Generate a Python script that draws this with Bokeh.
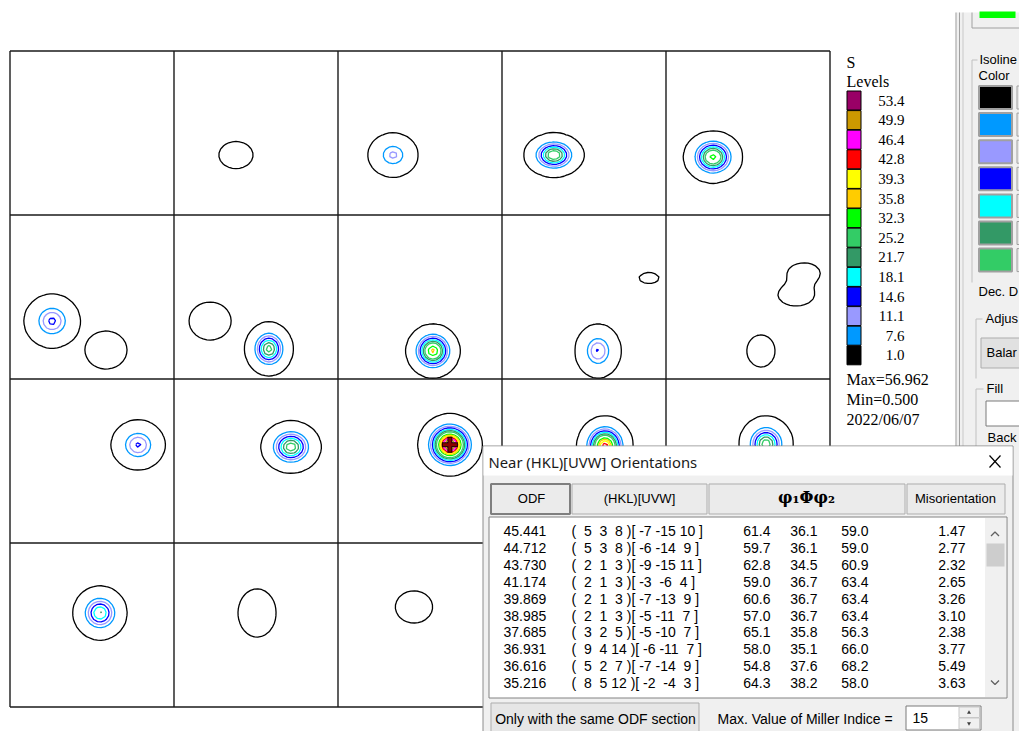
import numpy as np
from bokeh.plotting import figure
from bokeh.models import Range1d, ColumnDataSource
from bokeh.core.properties import value
from bokeh.embed import file_html
from bokeh.resources import INLINE

# ---------------- data ----------------
level_values = [1.0, 7.6, 11.1, 14.6, 18.1, 21.7, 25.2, 32.3, 35.8, 39.3, 42.8, 46.4, 49.9, 53.4]
level_colors = ["#000000", "#0099FF", "#9999FF", "#0000FF", "#00FFFF", "#339966", "#33CC66",
                "#00FF00", "#FFCC00", "#FFFF00", "#FF0000", "#FF00FF", "#CC9900", "#990066"]
odf_max = 56.962
odf_min = 0.500
date_label = "2022/06/07"
max_phi1, max_Phi, max_section = 61.4, 36.1, 12

# ODF peaks, per phi2 section (0..19): phi1, Phi (deg), peak value, half widths at level 1.0 (deg)
peak_section = [1, 2, 3, 4, 5, 5, 6, 6, 7, 8, 8, 9, 9, 9, 10, 11, 12, 13, 14, 15, 16, 17]
peak_phi1 = [34.0, 30.2, 28.5, 25.8, 23.1, 52.7, 19.8, 52.1, 52.1, 80.7, 52.7, 75.7, 71.4, 52.1,
             70.3, 64.2, 61.4, 56.5, 54.9, 49.4, 45.6, 41.7]
peak_Phi = [57.1, 57.1, 57.1, 58.2, 58.2, 74.1, 58.2, 73.5, 74.6, 34.6, 74.6, 31.8, 43.9, 74.6,
            36.2, 37.3, 36.1, 36.8, 35.7, 38.4, 38.4, 35.1]
peak_value = [2.5, 12.0, 30.0, 34.0, 15.5, 2.5, 2.3, 27.0, 37.0, 1.5, 15.0, 1.6, 1.6, 2.0,
              15.2, 28.0, 56.962, 45.0, 28.0, 22.0, 2.5, 2.0]
peak_w1 = [9.3, 13.7, 16.5, 16.2, 15.4, 11.5, 11.5, 13.2, 14.8, 5.5, 12.6, 8.8, 9.9, 7.7,
           14.8, 16.5, 17.6, 15.4, 14.8, 14.8, 10.4, 10.2]
peak_w2 = [7.4, 12.1, 12.1, 14.3, 14.8, 10.4, 10.4, 14.8, 14.8, 3.0, 14.8, 5.5, 6.0, 8.8,
           13.7, 14.3, 17.0, 16.5, 15.4, 14.8, 13.2, 8.8]

# table of near orientations
tbl_odf = ["45.441", "44.712", "43.730", "41.174", "39.869", "38.985", "37.685", "36.931", "36.616", "35.216"]
tbl_h = [5, 5, 2, 2, 2, 2, 3, 9, 5, 8]
tbl_k = [3, 3, 1, 1, 1, 1, 2, 4, 2, 5]
tbl_l = [8, 8, 3, 3, 3, 3, 5, 14, 7, 12]
tbl_u = [-7, -6, -9, -3, -7, -5, -5, -6, -7, -2]
tbl_v = [-15, -14, -15, -6, -13, -11, -10, -11, -14, -4]
tbl_w = [10, 9, 11, 4, 9, 7, 7, 7, 9, 3]
tbl_phi1 = ["61.4", "59.7", "62.8", "59.0", "60.6", "57.0", "65.1", "58.0", "54.8", "64.3"]
tbl_Phi = ["36.1", "36.1", "34.5", "36.7", "36.7", "36.7", "35.8", "35.1", "37.6", "38.2"]
tbl_phi2 = ["59.0", "59.0", "60.9", "63.4", "63.4", "63.4", "56.3", "66.0", "68.2", "58.0"]
tbl_mis = ["1.47", "2.77", "2.32", "2.65", "3.26", "3.10", "2.38", "3.77", "5.49", "3.63"]
max_miller = "15"
isoline_colors = level_colors[:7]

# ---------------- figure ----------------
W, H = 1019, 731
p = figure(width=W, height=H, x_range=Range1d(0, W), y_range=Range1d(H, 0),
           output_backend="svg", toolbar_location=None, x_axis_type=None, y_axis_type=None,
           min_border=0, background_fill_color="white", border_fill_color="white")
p.outline_line_color = None
p.xgrid.visible = False
p.ygrid.visible = False

SANS = value("Liberation Sans")
SERIF = value("Liberation Serif")
NB = "\u00a0"

def txt(x, y, s, size="13px", font=SANS, align="left", color="#000000", style="normal"):
    p.text(x=x if isinstance(x, list) else [x], y=y if isinstance(y, list) else [y],
           text=s if isinstance(s, list) else [s], text_font=font, text_font_size=size,
           text_align=align, text_baseline="middle", text_color=color, text_font_style=style)

# ---------------- ODF sections ----------------
GX0, GY0, CELL = 9.5, 50.5, 164.0
DEG = CELL / 90.0
phi = np.arange(0, 90.001, 2.0)
P1, PP = np.meshgrid(phi, phi)
for s in sorted(set(peak_section)):
    r, c = divmod(s, 5)
    z = np.full(P1.shape, odf_min)
    for i, sec in enumerate(peak_section):
        if sec != s:
            continue
        A = peak_value[i] - odf_min
        k = np.sqrt(2 * np.log(A / (level_values[0] - odf_min)))
        s1, s2 = peak_w1[i] / k, peak_w2[i] / k
        z += A * np.exp(-((P1 - peak_phi1[i]) ** 2 / (2 * s1 ** 2) + (PP - peak_Phi[i]) ** 2 / (2 * s2 ** 2)))
    xs = GX0 + c * CELL + phi * DEG
    ys = GY0 + r * CELL + phi * DEG
    p.contour(xs, ys, z, levels=level_values, line_color=level_colors, line_width=1.3)

# maximum marker
mr, mc = divmod(max_section, 5)
mx = GX0 + mc * CELL + max_phi1 * DEG
my = GY0 + mr * CELL + max_Phi * DEG
p.scatter([mx], [my], marker="cross", size=16, line_color="#1a0000", line_width=5)
p.scatter([mx], [my], marker="cross", size=14, line_color="#8B0000", line_width=3)

# grid
gx = [GX0 + i * CELL for i in range(6)]
gy = [GY0 + j * CELL for j in range(5)]
p.segment(x0=gx, y0=[gy[0]] * 6, x1=gx, y1=[gy[-1]] * 6, line_color="#1a1a1a", line_width=1.4)
p.segment(x0=[gx[0]] * 5, y0=gy, x1=[gx[-1]] * 5, y1=gy, line_color="#1a1a1a", line_width=1.4)

# ---------------- legend ----------------
LX, LY0, LSTEP = 846.5, 90.5, 19.6
n = len(level_values)
tops = [LY0 + i * LSTEP for i in range(n)]
rev_vals = level_values[::-1]
rev_cols = level_colors[::-1]
p.quad(left=[LX] * n, right=[LX + 14] * n, top=tops, bottom=[t + 19 for t in tops],
       fill_color=rev_cols, line_color="#000000", line_width=1)
txt([904] * n, [t + 9.5 for t in tops], ["%.1f" % v for v in rev_vals], size="15px", font=SERIF, align="right")
txt(846, 62, "S", size="16px", font=SERIF)
txt(846, 81, "Levels", size="16px", font=SERIF)
txt(846, 379, "Max=%.3f" % odf_max, size="16px", font=SERIF)
txt(846, 399, "Min=%.3f" % odf_min, size="16px", font=SERIF)
txt(846, 419, date_label, size="16px", font=SERIF)

# ---------------- right control panel ----------------
p.quad(left=[955], right=[1020], top=[12], bottom=[731], fill_color="#F0F0F0", line_color=None)
p.segment(x0=[955.5, 959, 962.5], y0=[12] * 3, x1=[955.5, 959, 962.5], y1=[731] * 3,
          line_color=["#A0A0A0", "#A0A0A0", "#C8C8C8"], line_width=1)
p.segment(x0=[971.5, 971.5], y0=[12, 27.5], x1=[971.5, 1019], y1=[27.5, 27.5], line_color="#A0A0A0", line_width=1)
p.quad(left=[979], right=[1015], top=[11], bottom=[17.5], fill_color="#00FF00", line_color=None)
# Isoline group
p.segment(x0=[971.5, 971.5], y0=[59.5, 59.5], x1=[977, 971.5], y1=[59.5, 282], line_color="#C0C0C0", line_width=1)
txt(979, 59, "Isoline", size="13px")
txt(978, 75, "Color", size="13px")
sw_top = [85.5 + 27.1 * i for i in range(len(isoline_colors))]
p.quad(left=[978.5] * 7, right=[1011.5] * 7, top=sw_top, bottom=[t + 23 for t in sw_top],
       fill_color=isoline_colors, line_color="#A0A0A0", line_width=2)
p.quad(left=[1016.5] * 7, right=[1025] * 7, top=sw_top, bottom=[t + 23 for t in sw_top],
       fill_color="#E8E8E8", line_color="#A0A0A0", line_width=1)
txt(978, 291, "Dec. D", size="13px")
# Adjust group
p.segment(x0=[975.5, 975.5], y0=[318.5, 318.5], x1=[982, 975.5], y1=[318.5, 378], line_color="#C0C0C0", line_width=1)
txt(985, 318, "Adjus", size="13px")
p.quad(left=[980.5], right=[1025], top=[337.5], bottom=[367.5], fill_color="#E1E1E1", line_color="#ADADAD")
txt(986, 352, "Balar", size="13px")
# Fill group
p.segment(x0=[975.5, 975.5], y0=[388.5, 388.5], x1=[983, 975.5], y1=[388.5, 446], line_color="#C0C0C0", line_width=1)
txt(986, 388, "Fill", size="13px")
p.quad(left=[985.5], right=[1025], top=[400.5], bottom=[425.5], fill_color="white", line_color="#7A7A7A")
txt(987, 437, "Back", size="13px")

# ---------------- dialog ----------------
p.quad(left=[482.5], right=[1012.5], top=[445.5], bottom=[740], fill_color="#F0F0F0", line_color="#8C8C8C")
p.quad(left=[483], right=[1012], top=[446], bottom=[475], fill_color="white", line_color=None)
txt(488, 461, "Near (HKL)[UVW] Orientations", size="14.8px", font=value("Noto Sans"), color="#1a1a1a")
p.segment(x0=[989, 989], y0=[455, 467], x1=[1000, 1000], y1=[467, 455], line_color="#000000", line_width=1.2)

# header buttons
bl = [490.5, 571.5, 708.5, 906.5]
br = [569.5, 706.5, 904.5, 1004.5]
p.quad(left=bl, right=br, top=[483.5] * 4, bottom=[513.5] * 4, fill_color="#EBEBEB",
       line_color=["#7F7F7F", "#ADADAD", "#ADADAD", "#ADADAD"], line_width=[2, 1, 1, 1])
txt(531, 498, "ODF", size="13px", align="center")
txt(639, 498, "(HKL)[UVW]", size="13px", align="center")
txt(806, 497, "φ₁Φφ₂", size="16px", font=value("DejaVu Serif"), align="center", style="bold")
txt(955, 498, "Misorientation", size="13px", align="center")

# list box
p.quad(left=[488.5], right=[1006.5], top=[516.5], bottom=[697.5], fill_color="white", line_color="#828282")
p.quad(left=[984.5], right=[1005.5], top=[517.5], bottom=[696.5], fill_color="#F0F0F0", line_color=None)
p.quad(left=[986], right=[1004], top=[543], bottom=[566], fill_color="#CDCDCD", line_color=None)
p.multi_line(xs=[[990.5, 994.5, 998.5], [990.5, 994.5, 998.5]], ys=[[535.5, 531.5, 535.5], [680, 684, 680]],
             line_color="#606060", line_width=1.3)

nrow = len(tbl_odf)
ry = [530.5 + 16.9 * i for i in range(nrow)]
hkl_uvw = [("(%3d%3d%3d )[%3d %3d%3d ]" % (tbl_h[i], tbl_k[i], tbl_l[i], tbl_u[i], tbl_v[i], tbl_w[i])).replace(" ", NB)
           for i in range(nrow)]
src = ColumnDataSource(dict(y=ry, odf=tbl_odf, hkl=hkl_uvw,
                            phi1=tbl_phi1, Phi=tbl_Phi, phi2=tbl_phi2, mis=tbl_mis))
cols = [("odf", 503, "left"), ("hkl", 571, "left"), ("phi1", 770, "right"), ("Phi", 817, "right"),
        ("phi2", 868, "right"), ("mis", 965, "right")]
for field, xpos, al in cols:
    p.text(x=xpos, y="y", text=field, source=src, text_font=SANS, text_font_size="14px",
           text_align=al, text_baseline="middle", text_color="#000000")

# bottom controls
p.quad(left=[490.5], right=[698.5], top=[702.5], bottom=[740], fill_color="#E6E6E6", line_color="#ADADAD")
txt(595, 718, "Only with the same ODF section", size="14px", align="center")
txt(717, 718, "Max. Value of Miller Indice =", size="14px")
p.quad(left=[905.5], right=[980.5], top=[705.5], bottom=[729.5], fill_color="white", line_color="#7A7A7A")
txt(912, 717, max_miller, size="14px")
p.quad(left=[958.5, 958.5], right=[979, 979], top=[706.5, 717.5], bottom=[717, 728.5],
       fill_color="#F0F0F0", line_color="#C8C8C8")
p.scatter([968.5, 968.5], [712, 723], marker=["triangle", "inverted_triangle"], size=4,
          fill_color="#404040", line_color=None)

open("out.html", "w").write(file_html(p, INLINE))
